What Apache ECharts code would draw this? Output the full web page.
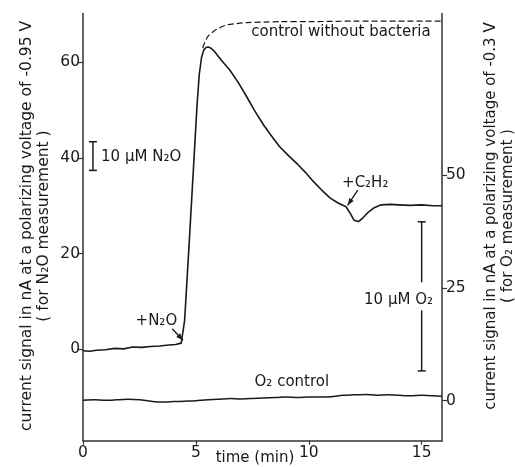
<!DOCTYPE html>
<html><head><meta charset="utf-8">
<script src="https://cdn.jsdelivr.net/npm/echarts@6/dist/echarts.min.js"></script>
<style>html,body{margin:0;padding:0;background:#fff}#c{width:515px;height:467px}</style>
</head><body><div id="c"></div><script>
// ---- data ----
const timeTicks = [0, 5, 10, 15];
const leftTicks = [0, 20, 40, 60];
const rightTicks = [0, 25, 50];

const n2oTime = [0, 0.3, 0.6, 1.0, 1.4, 1.8, 2.2, 2.6, 3.0, 3.4, 3.8, 4.1, 4.35, 4.42, 4.5, 4.7, 4.9, 5.05, 5.15, 5.25, 5.35, 5.45, 5.55, 5.65, 5.8, 6.1, 6.5, 6.9, 7.25, 7.6, 8.0, 8.35, 8.7, 9.1, 9.5, 9.85, 10.2, 10.55, 10.95, 11.3, 11.65, 11.85, 12.0, 12.2, 12.4, 12.6, 12.9, 13.2, 13.6, 14.0, 14.5, 15.0, 15.5, 15.9];
const n2oSignal = [-0.3, -0.4, -0.2, -0.1, 0.2, 0.1, 0.5, 0.4, 0.6, 0.7, 0.9, 1.0, 1.3, 1.5, 6, 22, 38.5, 51, 57.5, 61.0, 62.6, 63.1, 63.2, 63.0, 62.4, 60.6, 58.4, 55.6, 52.8, 49.9, 46.9, 44.6, 42.4, 40.5, 38.7, 37.0, 35.1, 33.4, 31.6, 30.6, 29.8, 28.3, 27.0, 26.7, 27.5, 28.5, 29.6, 30.2, 30.3, 30.2, 30.1, 30.2, 30.0, 30.0];

const ctrlTime = [5.3, 5.5, 5.76, 6.0, 6.36, 6.8, 7.24, 8.0, 8.72, 10, 12, 14, 15.9];
const ctrlSignal = [63.0, 65.2, 66.4, 67.1, 67.8, 68.1, 68.3, 68.4, 68.5, 68.5, 68.6, 68.6, 68.6];

const o2Time = [0, 0.5, 1, 1.5, 2, 2.5, 3, 3.5, 4, 4.5, 5, 5.5, 6, 6.5, 7, 7.5, 8, 8.5, 9, 9.5, 10, 10.5, 11, 11.5, 12, 12.5, 13, 13.5, 14, 14.5, 15, 15.5, 15.9];
const o2Signal = [0.1, 0.2, 0.1, 0.2, 0.3, 0.2, -0.1, -0.3, -0.2, -0.1, 0.0, 0.2, 0.3, 0.5, 0.4, 0.5, 0.6, 0.7, 0.8, 0.7, 0.8, 0.8, 0.9, 1.2, 1.3, 1.4, 1.2, 1.3, 1.2, 1.1, 1.2, 1.1, 1.0];

const leftName = 'current signal in nA at a polarizing voltage of -0.95 V\n( for N\u2082O measurement )';
const rightName = 'current signal in nA at a polarizing voltage of -0.3 V\n( for O\u2082 measurement )';
const xName = 'time (min)';

// ---- chart ----
const FONT = '"DejaVu Sans", sans-serif';
const INK = '#1a1a1a';
const chart = echarts.init(document.getElementById('c'), null, {renderer: 'canvas'});
const zip = (a, b) => a.map((t, i) => [t, b[i]]);
const axLine = {show: true, onZero: false, lineStyle: {color: '#333', width: 1.5}};
const lbl = {fontSize: 15.5, color: INK, fontFamily: FONT};

chart.setOption({
  animation: false,
  grid: {left: 83, right: 73, top: 13.5, bottom: 26.3},
  xAxis: {
    type: 'value', min: 0, max: 15.9, interval: 5,
    axisLine: axLine,
    axisTick: {show: true, length: 4, customValues: timeTicks, lineStyle: {color: '#333', width: 1.2}},
    axisLabel: Object.assign({margin: 4, customValues: timeTicks}, lbl),
    splitLine: {show: false}
  },
  yAxis: [{
    type: 'value', min: -19.1, max: 70.2, position: 'left',
    axisLine: axLine,
    axisTick: {show: true, length: 5, customValues: leftTicks, lineStyle: {color: '#333', width: 1.2}},
    axisLabel: Object.assign({margin: 3, customValues: leftTicks}, lbl),
    splitLine: {show: false}
  }, {
    type: 'value', min: -8.85, max: 85.7, position: 'right',
    axisLine: axLine,
    axisTick: {show: true, length: 5, customValues: rightTicks, lineStyle: {color: '#333', width: 1.2}},
    axisLabel: Object.assign({margin: 4, customValues: rightTicks}, lbl),
    splitLine: {show: false}
  }],
  series: [{
    type: 'line', yAxisIndex: 0, data: zip(n2oTime, n2oSignal), smooth: false,
    symbol: 'none', lineStyle: {color: INK, width: 1.6, join: 'round'}
  }, {
    type: 'line', yAxisIndex: 0, data: zip(ctrlTime, ctrlSignal), smooth: 0.3,
    symbol: 'none', lineStyle: {color: INK, width: 1.2, type: [6, 3]}
  }, {
    type: 'line', yAxisIndex: 1, data: zip(o2Time, o2Signal), smooth: 0.2,
    symbol: 'none', lineStyle: {color: INK, width: 1.5}
  }]
});

// ---- annotations (data coordinates) ----
const P = (t, v, yi) => chart.convertToPixel({xAxisIndex: 0, yAxisIndex: yi}, [t, v]);
const g = [];
const TS = 15;
const txt = (p, text, align, size) => g.push({type: 'text', x: p[0], y: p[1], silent: true,
  style: {text, fill: INK, font: (size || TS) + 'px ' + FONT, textAlign: align || 'left', textVerticalAlign: 'middle'}});
const seg = (a, b, w) => g.push({type: 'line', silent: true, shape: {x1: a[0], y1: a[1], x2: b[0], y2: b[1]}, style: {stroke: INK, lineWidth: w || 1.5}});
const bar = (a, b) => { seg(a, b); seg([a[0] - 4, a[1]], [a[0] + 4, a[1]]); seg([b[0] - 4, b[1]], [b[0] + 4, b[1]]); };
const arrow = (a, b) => {
  seg(a, b, 1.3);
  const ang = Math.atan2(b[1] - a[1], b[0] - a[0]), L = 7, W = 2.6;
  const bx = b[0] - L * Math.cos(ang), by = b[1] - L * Math.sin(ang);
  g.push({type: 'polygon', silent: true, shape: {points: [b,
    [bx + W * Math.sin(ang), by - W * Math.cos(ang)], [bx - W * Math.sin(ang), by + W * Math.cos(ang)]]},
    style: {fill: INK}});
};

// N2O scale bar
const nb1 = P(0.44, 43.4, 0), nb2 = P(0.44, 37.4, 0);
bar(nb1, nb2);
txt(P(0.8, 40.2, 0), '10 \u03bcM N\u2082O');
// O2 scale bar with gap for label
const ob1 = P(15.0, 39.6, 1), ob2 = P(15.0, 6.6, 1);
seg(ob1, P(15.0, 26.2, 1)); seg(P(15.0, 20.0, 1), ob2);
seg([ob1[0] - 4, ob1[1]], [ob1[0] + 4, ob1[1]]); seg([ob2[0] - 4, ob2[1]], [ob2[0] + 4, ob2[1]]);
txt(P(15.5, 22.3, 1), '10 \u03bcM O\u2082', 'right');
// labels
txt(P(7.45, 66.3, 0), 'control without bacteria');
txt(P(9.25, 4.2, 1), 'O\u2082 control', 'center');
txt(P(3.25, 6.0, 0), '+N\u2082O', 'center');
arrow(P(3.95, 4.3, 0), P(4.43, 1.9, 0));
txt(P(12.5, 34.8, 0), '+C\u2082H\u2082', 'center');
arrow(P(12.17, 33.3, 0), P(11.72, 30.1, 0));
// axis names
g.push({type: 'text', x: 255, y: 458, silent: true,
  style: {text: xName, fill: INK, font: '15px ' + FONT, textAlign: 'center', textVerticalAlign: 'middle'}});
g.push({type: 'text', x: 35, y: 226, rotation: Math.PI / 2, silent: true,
  style: {text: leftName, fill: INK, font: '15.5px ' + FONT, textAlign: 'center', textVerticalAlign: 'middle', lineHeight: 17}});
g.push({type: 'text', x: 500, y: 216, rotation: Math.PI / 2, silent: true,
  style: {text: rightName, fill: INK, font: '15px ' + FONT, textAlign: 'center', textVerticalAlign: 'middle', lineHeight: 17}});

chart.setOption({graphic: g});
</script></body></html>
